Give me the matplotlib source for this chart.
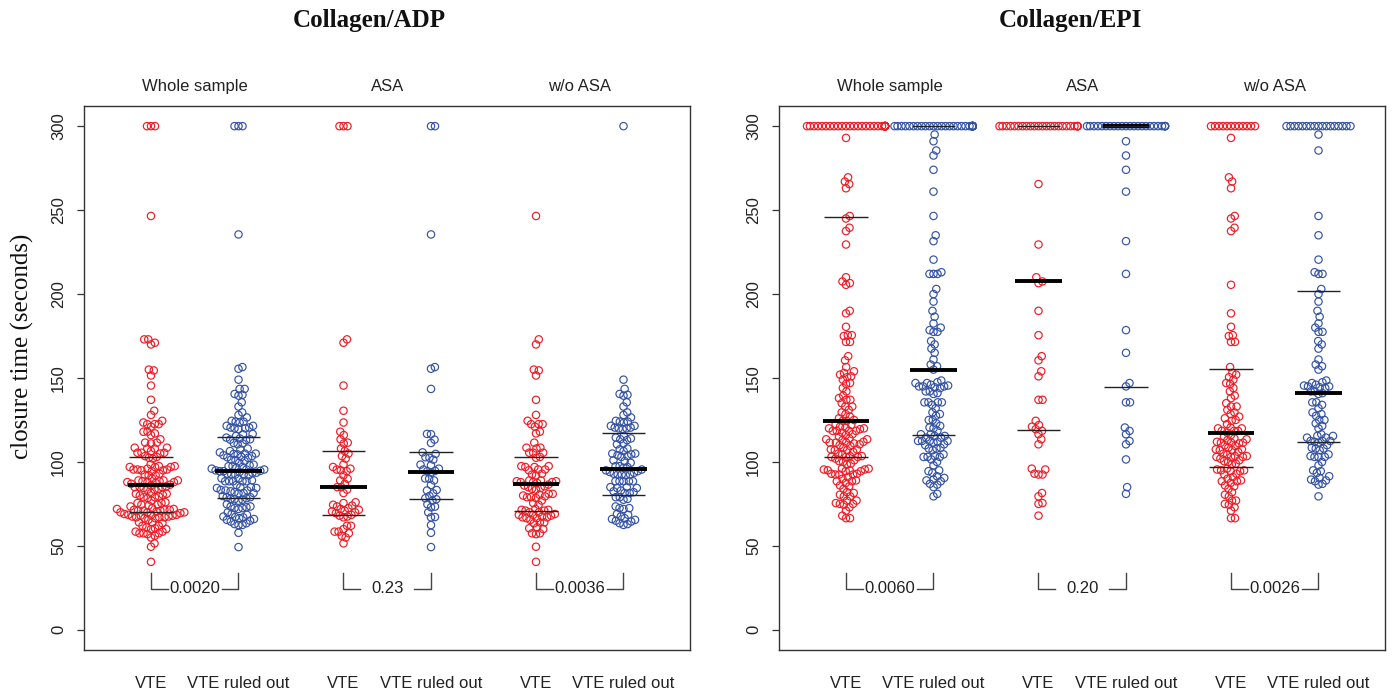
import numpy as np
import matplotlib
matplotlib.use('Agg')
import matplotlib.pyplot as plt
from matplotlib.transforms import blended_transform_factory

RED = '#EE1C24'
BLUE = '#3453A4'
LINE = '#222222'
SANS = 'Liberation Sans'
SERIF = 'Liberation Serif'

# ---------------- categories / labels ----------------
positions = [1, 2, 3.2, 4.2, 5.4, 6.4]
subgroup_titles = ['Whole sample', 'ASA', 'w/o ASA']
outcome_labels = ['VTE', 'VTE ruled out']
panel_titles = ['Collagen/ADP', 'Collagen/EPI']
p_values_adp = ['0.0020', '0.23', '0.0036']
p_values_epi = ['0.0060', '0.20', '0.0026']
yticks = [0, 50, 100, 150, 200, 250, 300]
ylabel = 'closure time (seconds)'

# ---------------- Collagen/ADP closure times ----------------
adp_asa_vte = [300, 300, 300, 173, 171, 145.5, 130.5, 123.5, 118, 116, 113.5, 111.5, 111,
               108, 106.5, 105, 103.5, 102, 98.5, 97, 96, 95.5, 95, 94.5, 92, 90, 89, 87,
               85, 85, 83.5, 81.5, 76, 75.5, 74.5, 74, 73.5, 72.5, 72, 71.5, 71, 70.5, 70,
               69.5, 68.5, 68, 67, 67.5, 62, 62, 60, 58.5, 58.5, 57.5, 56, 55, 51.5]
adp_asa_ro = [300, 300, 235.5, 156.5, 155.5, 143.5, 116.7, 116.5, 113.3, 111.3, 105.7, 104.8,
              102.8, 102.5, 101.4, 98.4, 98, 96, 95.5, 94.7, 94.5, 93.6, 90.2, 90, 89, 86.3,
              83.3, 83, 81.3, 79.7, 78.4, 77.8, 76.9, 74.8, 73.4, 73, 70, 67.2, 67, 62.4,
              57.8, 49.3]
adp_wo_vte = [246.5, 173, 170, 155, 154.5, 151.5, 137, 128,
              124.5, 122.5, 122.5, 122.5, 121, 118, 117, 111.5,
              108.5, 108.5, 108, 105.5, 105.5, 105.5, 103, 102.5,
              97, 97, 97.5, 97.5, 95.5, 95, 95.5, 93, 92, 92.5,
              88, 88, 88.5, 89, 89, 88.5, 88, 86.5, 85, 87.5, 86, 85.5, 84.5,
              81, 81, 80, 79.5, 79, 80.5, 79, 84, 83.5, 78.5, 77,
              74.5, 75.5, 71.5, 71, 71.5, 72, 71, 70, 70, 68.5, 67, 67.5, 68, 69, 68.5,
              67, 66.5, 66.5, 65.5,
              63.5, 64, 64, 61, 60, 60.5, 57.5, 57.5, 57, 49.5, 40.5]
adp_wo_ro = [300, 149, 143.5, 140.5, 140, 139.5, 135.5, 133, 129.5, 128, 126.5,
             124, 124.5, 124, 123.5, 121.5, 120.5, 120, 119.5, 120, 120.5, 121.5,
             114.5, 114, 115.5, 113, 113.5, 111, 110.5,
             106.5, 107.5, 108, 105, 105, 104.5, 104, 103, 103.5, 100.5, 101, 99.5,
             97.5, 94, 97.5, 94.5, 97, 96.5, 95, 92.5, 92, 92.5, 93, 92.5, 93.5, 95.5,
             88.5, 88.5, 88.5, 88.5, 88.5, 85, 85, 84.5, 84.5,
             81.5, 82.5, 82, 83, 81.5, 79, 78, 79, 77.5,
             72.5, 72.5, 72, 73.5, 69, 67.5, 68.5, 66.5, 66, 65.5,
             62.5, 65, 63.5, 64.5, 63]

# ---------------- Collagen/EPI closure times ----------------
epi_asa_vte = [300, 300, 300, 300, 300, 300, 300, 300, 300, 300, 300, 300,
               300, 300, 300, 300, 300, 300, 300, 300, 300, 300, 300, 300,
               265.5, 229.5, 210, 207.5, 206.5, 190, 175.5, 163, 160.5, 154, 151, 137, 137,
               124.5, 122, 121, 119.5, 118.5, 116.5, 113.5, 110.5, 96, 95.5, 93, 92.5, 92.5,
               81.5, 79.5, 75.5, 75, 68]
epi_asa_ro = [300, 300, 300, 300, 300, 300, 300, 300, 300, 300, 300, 300,
              300, 300, 300, 300, 300, 300, 300, 300, 300, 300, 300, 300,
              291, 282.5, 274, 261, 231.5, 212, 178.5, 165, 147, 145, 135.5, 135.5, 120.5,
              118.5, 116.5, 112.5, 110.5, 101.5, 85, 81]
epi_wo_vte = [300, 300, 300, 300, 300, 300, 300, 300, 300, 300, 300, 300,
              293, 269.5, 267, 263, 246.5, 245, 239.5, 237.5, 205.5, 188.5, 180.5, 175.5,
              175, 171.5, 171.5,
              156.5, 150.5, 149, 152, 147, 146.5, 139.5, 138, 153, 144, 142,
              129.5, 131, 133, 133, 127, 128.5, 135, 126,
              124.5, 125, 122.5, 120, 118.5, 120, 120.5, 118.5, 118.5, 115, 117.5, 116, 114,
              113.5, 113,
              111.5, 111.5, 111, 112, 111.5, 107.5, 107.5, 107, 108.5, 107, 110, 109.5, 106, 105,
              104.5, 103, 103, 103.5, 103, 103.5, 101, 100.5, 102,
              99, 100, 98.5, 95, 94.5, 95, 95.5, 94.5, 96, 93,
              88.5, 87.5, 89, 88.5, 91, 86, 85.5, 92.5, 90, 84, 82,
              77, 79.5, 80.5, 77, 75, 74.5, 71, 73,
              66.5, 66.5]
epi_wo_ro = [300, 300, 300, 300, 300, 300, 300, 300, 300, 300, 300, 300, 300, 300, 300, 300, 300,
             295, 285.5, 246.5, 235, 220.5, 213, 212, 212, 203, 200, 195.5,
             190, 186.5, 182.5, 180, 177.5, 177.5, 172, 170, 167.5,
             161, 158, 155, 157,
             148.5, 147.5, 147, 146, 144.5, 144,
             145, 145, 145.5, 142, 141, 140.5, 142,
             135.5, 135.5, 134, 132, 129.5,
             128.5, 127.5, 125, 125, 123, 121.5, 120,
             116.5, 115.5, 114.5, 115.5, 114.5, 112.5, 111.5, 112, 112.5, 110, 112.5,
             108, 108.5, 107, 108, 104.5, 103.5, 103, 103, 103,
             100, 98, 94.5, 95, 93.5,
             91.5, 90.5, 89.5, 89, 87, 88.5, 86.5,
             79.5]

# quartile / median lines
# order: whole VTE, whole ruled out, ASA VTE, ASA ruled out, w/o VTE, w/o ruled out
adp_q1 = [70, 78.7, 68.4, 77.8, 71, 80.3]
adp_med = [86.5, 94.4, 85, 94.2, 86.9, 95.8]
adp_q3 = [103, 114.7, 106.7, 105.7, 103.2, 117.3]
epi_q1 = [103.2, 116.3, 119.3, 144.9, 97.2, 111.7]
epi_med = [124.6, 154.8, 207.5, 300, 117.3, 140.9]
epi_q3 = [245.9, 300, 300, 300, 155.4, 202.1]

adp_groups = [adp_asa_vte + adp_wo_vte, adp_asa_ro + adp_wo_ro,
              adp_asa_vte, adp_asa_ro, adp_wo_vte, adp_wo_ro]
epi_groups = [epi_asa_vte + epi_wo_vte, epi_asa_ro + epi_wo_ro,
              epi_asa_vte, epi_asa_ro, epi_wo_vte, epi_wo_ro]

# ---------------- figure ----------------
W, H = 1392, 695
fig = plt.figure(figsize=(W / 100, H / 100), dpi=100)
XLIM = (0.2343, 7.16)
YLIM = (-12, 312)
ax_w_px, ax_h_px = 606, 544
pxx = ax_w_px / (XLIM[1] - XLIM[0])
pxy = ax_h_px / (YLIM[1] - YLIM[0])


def swarm_offsets(vals, dx=4.0, dy=7.0, corral=39.0):
    ys = np.asarray(vals, float) * pxy
    order = np.argsort(ys, kind='stable')
    px = np.empty(0)
    py = np.empty(0)
    out = np.zeros(len(ys))
    for i in order:
        y = ys[i]
        d = np.abs(py - y)
        near = d < dy
        chosen = 0.0
        if near.any():
            pn, yn = px[near], py[near]
            off = dx * np.sqrt(1 - (d[near] / dy) ** 2)
            cands = np.concatenate([[0.0], pn - off, pn + off])
            key = np.abs(cands) + 1e-6 * (cands < 0)
            for c in cands[np.argsort(key, kind='stable')]:
                ok = ((c - pn) / dx) ** 2 + ((y - yn) / dy) ** 2 >= 1 - 1e-6
                if ok.all():
                    chosen = c
                    break
        chosen = float(np.clip(chosen, -corral, corral))
        out[i] = chosen
        px = np.append(px, chosen)
        py = np.append(py, y)
    return out / pxx


def draw_panel(ax, groups, q1, med, q3, pvals, title, title_x):
    ax.set_xlim(*XLIM)
    ax.set_ylim(*YLIM)
    for k, (pos, vals) in enumerate(zip(positions, groups)):
        col = RED if k % 2 == 0 else BLUE
        offs = swarm_offsets(vals)
        ax.scatter(pos + offs, vals, s=28, facecolors='none', edgecolors=col,
                   linewidths=0.85, zorder=2, clip_on=False)
        hw = 0.265
        ax.plot([pos - hw, pos + hw], [med[k], med[k]], color='black', lw=2.8,
                zorder=3, solid_capstyle='butt')
        for qv in (q1[k], q3[k]):
            ax.plot([pos - 0.25, pos + 0.25], [qv, qv], color=LINE, lw=1.0,
                    zorder=3, solid_capstyle='butt')
    # brackets with p-values
    ytop, yline, gap = 34, 24.4, 0.31
    for j in range(3):
        x1, x2 = positions[2 * j], positions[2 * j + 1]
        xc = (x1 + x2) / 2
        ax.plot([x1, x1, xc - gap], [ytop, yline, yline], color='#444444', lw=1.0)
        ax.plot([xc + gap, x2, x2], [yline, yline, ytop], color='#444444', lw=1.0)
        ax.text(xc, yline, pvals[j], ha='center', va='center', fontsize=12,
                family=SANS, color='#222222')
    trans = blended_transform_factory(ax.transData, ax.transAxes)
    for j in range(3):
        xc = (positions[2 * j] + positions[2 * j + 1]) / 2
        ax.text(xc, 1.035, subgroup_titles[j], transform=trans, ha='center',
                va='center', fontsize=12, family=SANS, color='#222222')
    for k, pos in enumerate(positions):
        ax.text(pos, -0.0607, outcome_labels[k % 2], transform=trans, ha='center',
                va='center', fontsize=12, family=SANS, color='#222222')
    ax.set_xticks([])
    ax.set_yticks(yticks)
    ax.set_yticklabels([str(t) for t in yticks], family=SANS, fontsize=12,
                       color='#222222')
    for lab in ax.get_yticklabels():
        lab.set_rotation(90)
        lab.set_va('center')
        lab.set_ha('right')
    ax.tick_params(axis='y', direction='out', length=5, width=0.9, color='#333333', pad=8)
    for sp in ax.spines.values():
        sp.set_color('#333333')
        sp.set_linewidth(1.0)
    fig.text(title_x / W, 1 - 20 / H, title, ha='center', va='center', fontsize=18,
             family=SERIF, fontweight='bold', color='#111111')


axL = fig.add_axes([84 / W, 45 / H, ax_w_px / W, ax_h_px / H])
axR = fig.add_axes([779 / W, 45 / H, ax_w_px / W, ax_h_px / H])
draw_panel(axL, adp_groups, adp_q1, adp_med, adp_q3, p_values_adp, panel_titles[0], 369)
draw_panel(axR, epi_groups, epi_q1, epi_med, epi_q3, p_values_epi, panel_titles[1], 1070)
fig.text(22 / W, 1 - 346 / H, ylabel, rotation=90, ha='center', va='center',
         fontsize=18, family=SERIF, color='#111111')

fig.savefig('out.png', dpi=100)
